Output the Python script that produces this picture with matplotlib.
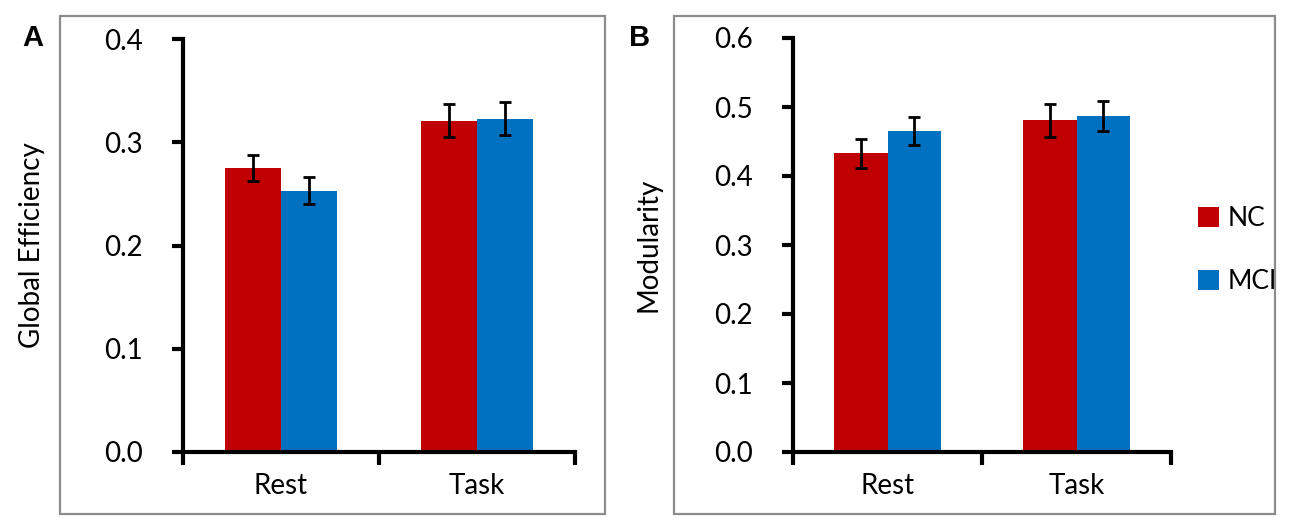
import matplotlib
matplotlib.use("Agg")
import matplotlib.pyplot as plt
from matplotlib.patches import Rectangle, Patch
import numpy as np

plt.rcParams['font.family'] = ['Lato', 'DejaVu Sans']

categories = ["Rest", "Task"]
groups = ["NC", "MCI"]
ge_nc = [0.275, 0.321]
ge_mci = [0.253, 0.323]
ge_nc_err = [0.013, 0.016]
ge_mci_err = [0.013, 0.016]
mod_nc = [0.433, 0.481]
mod_mci = [0.465, 0.487]
mod_nc_err = [0.021, 0.024]
mod_mci_err = [0.020, 0.022]

RED = "#C00000"
BLUE = "#0070C0"
W, H = 1300, 521
fig = plt.figure(figsize=(W / 100, H / 100), dpi=100)

def fx(px):
    return px / W

def fy(py):
    return 1 - py / H

# panel frames
for x0, x1 in [(60, 605), (674, 1275)]:
    fig.patches.append(Rectangle((fx(x0), fy(514)), fx(x1 - x0), (514 - 16) / H,
                                 transform=fig.transFigure, fill=False,
                                 edgecolor="#8c8c8c", linewidth=1.6))

FS = 20

def panel(rect, nc, mci, nce, mcie, ymax, yticks, ylabel, letter, lx, ylx):
    ax = fig.add_axes(rect)
    x = np.arange(len(categories))
    bw = 0.284
    ekw = dict(elinewidth=2.0, capthick=2.0, ecolor="black")
    ax.bar(x - bw / 2, nc, bw, color=RED, yerr=nce, capsize=4.2, error_kw=ekw)
    ax.bar(x + bw / 2, mci, bw, color=BLUE, yerr=mcie, capsize=4.2, error_kw=ekw)
    ax.set_xlim(-0.5, len(categories) - 0.5)
    ax.set_ylim(0, ymax)
    ax.set_yticks(yticks)
    ax.set_yticklabels([f"{t:.1f}" for t in yticks], fontsize=FS)
    ax.set_xticks([-0.5, 0.5, 1.5])
    ax.set_xticklabels([])
    ax.set_xticks(x, minor=True)
    ax.set_xticklabels(categories, minor=True, fontsize=FS)
    ax.tick_params(axis="x", which="minor", length=0, pad=15)
    ax.tick_params(axis="x", which="major", direction="out", length=9, width=3)
    ax.tick_params(axis="y", direction="out", length=8, width=3, pad=21)
    for s in ["top", "right"]:
        ax.spines[s].set_visible(False)
    for s in ["left", "bottom"]:
        ax.spines[s].set_linewidth(3)
    ax.spines["left"].set_bounds(0, ymax)
    fig.text(fx(ylx), fy(245), ylabel, rotation=90, ha="center", va="center", fontsize=FS)
    fig.text(fx(lx), fy(38), letter, ha="center", va="center", fontsize=21,
             fontweight="bold", family=["Liberation Sans", "DejaVu Sans"])
    return ax

axA = panel([fx(183), fy(452), fx(575 - 183), (452 - 39) / H],
            ge_nc, ge_mci, ge_nc_err, ge_mci_err, 0.4,
            [0.0, 0.1, 0.2, 0.3, 0.4], "Global Efficiency", "A", 33, 32)
axB = panel([fx(793), fy(452), fx(1171 - 793), (452 - 38) / H],
            mod_nc, mod_mci, mod_nc_err, mod_mci_err, 0.6,
            [0.0, 0.1, 0.2, 0.3, 0.4, 0.5, 0.6], "Modularity", "B", 640, 648)

handles = [Patch(facecolor=RED, edgecolor="none"), Patch(facecolor=BLUE, edgecolor="none")]
fig.legend(handles, groups, loc="center left", bbox_to_anchor=(fx(1198), fy(250)),
           frameon=False, fontsize=19, handlelength=0.78, handleheight=0.78,
           handletextpad=0.35, labelspacing=1.45, borderpad=0, borderaxespad=0)

fig.savefig("out.png", dpi=100)
